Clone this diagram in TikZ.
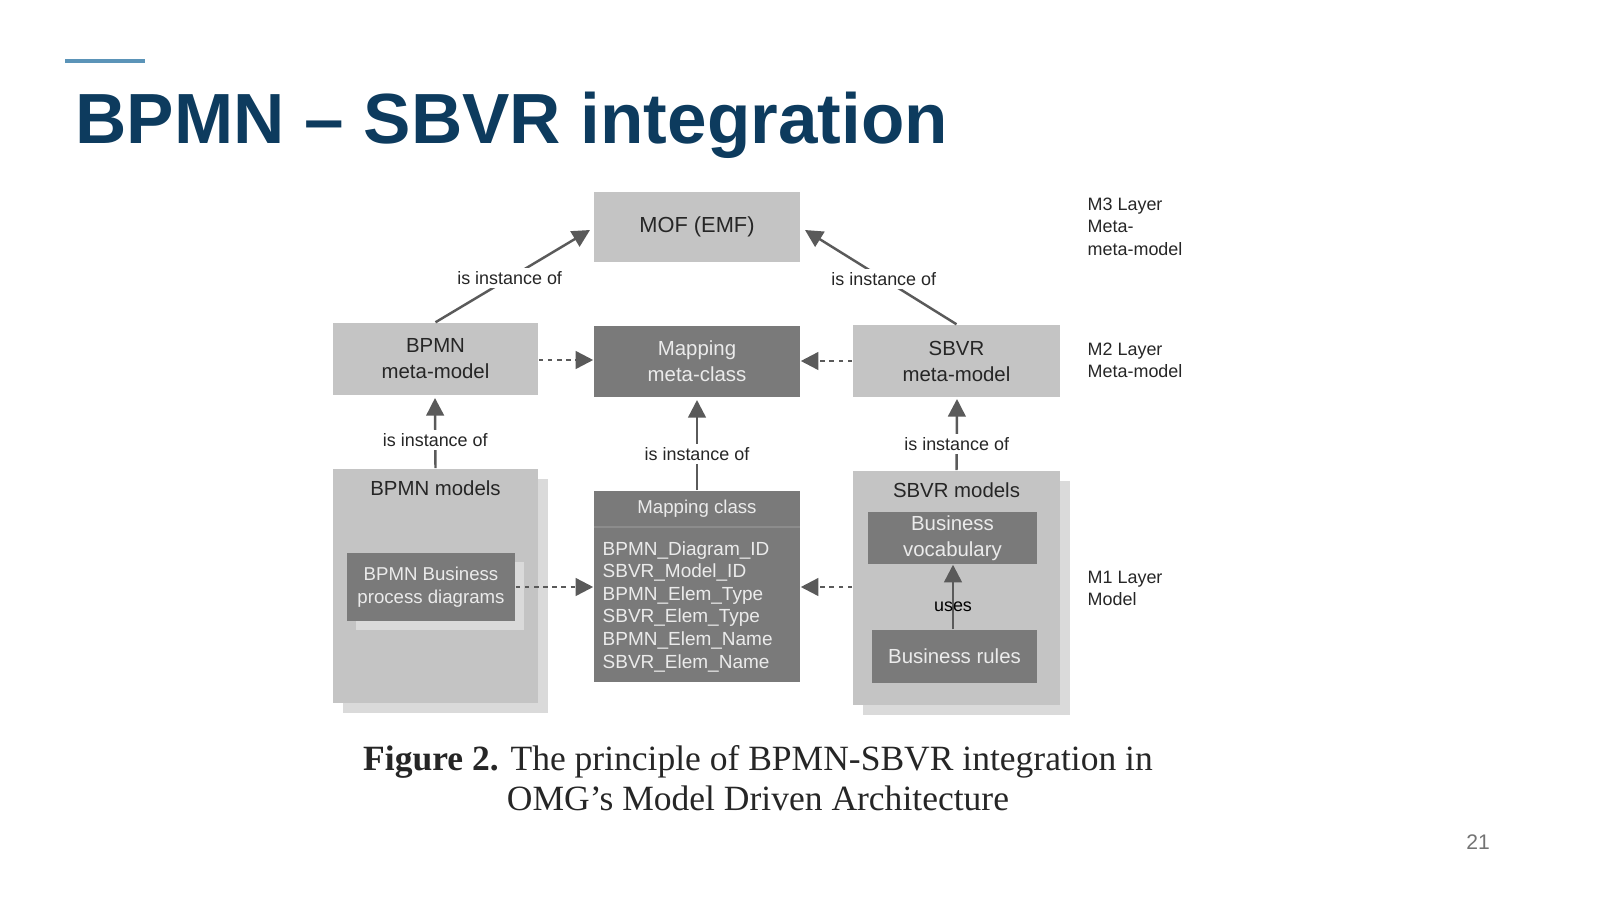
\documentclass[tikz,border=0pt]{standalone}
\usepackage{fontspec}
\setmainfont{Liberation Sans}
\newfontfamily\capfont{Liberation Serif}
\usetikzlibrary{arrows.meta}
\definecolor{navy}{HTML}{0D3B5E}
\definecolor{barblue}{HTML}{5B94B8}
\definecolor{lgray}{HTML}{C4C4C4}
\definecolor{dgray}{HTML}{7A7A7A}
\definecolor{sgray}{HTML}{DADADA}
\definecolor{agray}{HTML}{5A5A5A}
\begin{document}
\begin{tikzpicture}[x=0.01cm,y=-0.01cm,
  lbox/.style={fill=lgray,draw=none,inner sep=0,font=\fontsize{5.8}{7.4}\selectfont,text=black!85,align=center},
  dbox/.style={fill=dgray,draw=none,inner sep=0,font=\fontsize{5.8}{7.4}\selectfont,text=black!8,align=center},
  lbl/.style={font=\fontsize{5.1}{6}\selectfont,text=black!85,fill=white,inner sep=1pt},
  layer/.style={font=\fontsize{5.1}{6.4}\selectfont,text=black!85,align=left,anchor=north west,inner sep=0},
  arr/.style={draw=agray,line width=0.7pt,-{Triangle[length=5pt,width=5pt]}},
  darr/.style={draw=agray,line width=0.7pt,dash pattern=on 1.3pt off 1.3pt,-{Triangle[length=5pt,width=5pt]}}]
\useasboundingbox (0,0) rectangle (1600,900);
\draw[barblue,line width=1.4pt] (65,61) -- (145,61);
\node[anchor=base west,inner sep=0,text=navy,font=\fontsize{20.2}{22}\selectfont\bfseries] (title) at (75,143) {BPMN – SBVR integration};

% shadows
\fill[sgray] (343,479) rectangle (548,713);
\fill[sgray] (863,481) rectangle (1070,715);
% boxes
\node[lbox,minimum width=2.06cm,minimum height=0.70cm] (mof) at (697,227) {\fontsize{6.2}{8}\selectfont MOF (EMF)};
\node[lbox,minimum width=2.05cm,minimum height=0.72cm] (bpmnmm) at (435.5,359) {BPMN\\meta-model};
\node[dbox,minimum width=2.06cm,minimum height=0.71cm] (mapmc) at (697,361.5) {Mapping\\meta-class};
\node[lbox,minimum width=2.07cm,minimum height=0.72cm] (sbvrmm) at (956.5,361) {SBVR\\meta-model};

\node[lbox,minimum width=2.05cm,minimum height=2.34cm] (bpmnm) at (435.5,586) {};
\node[lbox,anchor=north,inner sep=0] (bpmnmt) at (435.5,480) {BPMN models};
\fill[sgray] (356,562) rectangle (524,630);
\node[dbox,minimum width=1.68cm,minimum height=0.68cm,font=\fontsize{5.3}{6.6}\selectfont] (bpd) at (431,587) {BPMN Business\\process diagrams};

\node[dbox,minimum width=2.06cm,minimum height=1.91cm] (mapc) at (697,586.5) {};
\node[dbox,anchor=center,font=\fontsize{5.3}{6.6}\selectfont] (mapct) at (697,509) {Mapping class};
\draw[black!45,line width=0.6pt] (594,527) -- (800,527);
\node[dbox,anchor=north west,align=left,font=\fontsize{5.4}{6.4}\selectfont] (mapcl) at (602,541) {BPMN\_Diagram\_ID\\SBVR\_Model\_ID\\BPMN\_Elem\_Type\\SBVR\_Elem\_Type\\BPMN\_Elem\_Name\\SBVR\_Elem\_Name};

\node[lbox,minimum width=2.07cm,minimum height=2.34cm] (sbvrm) at (956.5,588) {};
\node[lbox,anchor=north] (sbvrmt) at (956.5,482) {SBVR models};
\node[dbox,minimum width=1.69cm,minimum height=0.52cm] (voc) at (952.5,538) {Business\\vocabulary};
\node[dbox,minimum width=1.65cm,minimum height=0.53cm] (rules) at (954.5,656.5) {Business rules};

% arrows
\draw[arr] (bpmnmm.north) -- node[lbl,pos=0.48]{is instance of} (590,230);
\draw[arr] (sbvrmm.north) -- node[lbl,pos=0.48]{is instance of} (805,230);
\draw[arr] (bpmnm.north) -- node[lbl,pos=0.4]{is instance of} (435,398);
\draw[arr] (mapc.north) -- node[lbl,pos=0.4]{is instance of} (697,400);
\draw[arr] (sbvrm.north) -- node[lbl,pos=0.37]{is instance of} (957,399);
\draw[darr] (bpmnmm.east |- 0,360) -- (mapmc.west |- 0,360);
\draw[darr] (sbvrmm.west |- 0,361) -- (mapmc.east |- 0,361);
\draw[darr] (bpd.east |- 0,587) -- (mapc.west |- 0,587);
\draw[darr] (sbvrm.west |- 0,587) -- (mapc.east |- 0,587);
\draw[arr] (rules.north -| 953,0) -- node[pos=0.35,inner sep=0,font=\fontsize{5.1}{6}\selectfont,text=black]{uses} (voc.south -| 953,0);

% layers
\node[layer] (m3) at (1087,197) {M3 Layer\\Meta-\\meta-model};
\node[layer] (m2) at (1087,342) {M2 Layer\\Meta-model};
\node[layer] (m1) at (1087,570) {M1 Layer\\Model};

\node[font=\capfont\fontsize{10.1}{11.5}\selectfont,align=center,text=black!85] (cap) at (758,778) {\textbf{Figure 2.} The principle of BPMN-SBVR integration in\\OMG’s Model Driven Architecture};
\node[text=black!55,font=\fontsize{6}{8}\selectfont] (pg) at (1478,842) {21};
\end{tikzpicture}
\end{document}
